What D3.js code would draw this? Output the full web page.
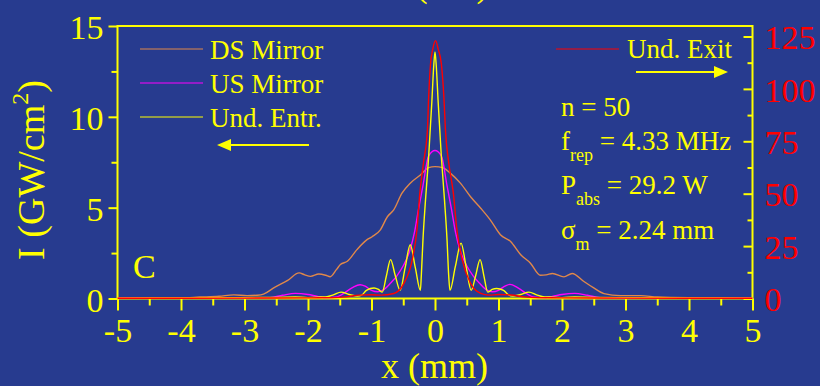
<!DOCTYPE html>
<html>
<head>
<meta charset="utf-8">
<script src="https://cdn.jsdelivr.net/npm/d3@7"></script>
<style>
  html, body { margin: 0; padding: 0; background: #273b8f; }
  svg { display: block; }
  text { font-family: "Liberation Serif", "Times New Roman", serif; }
</style>
</head>
<body>
<svg id="chart" width="820" height="386"></svg>
<script>
// Transverse position (mm) and intensity samples for each profile.
// DS Mirror, US Mirror and Und. Entr. use the left axis (GW/cm^2);
// Und. Exit uses the right axis.
const dsX = [-5, -4.5, -4, -3.7, -3.4, -3.17, -2.96, -2.8, -2.7, -2.54, -2.32, -2.14, -2.05, -1.96, -1.83, -1.72, -1.65, -1.55, -1.49, -1.38, -1.23, -1.07, -0.99, -0.86, -0.75, -0.65, -0.52, -0.39, -0.23, -0.1, 0,
             0.12, 0.24, 0.40, 0.56, 0.72, 0.87, 1.03, 1.19, 1.35, 1.50, 1.66, 1.75, 1.85, 2.03, 2.16, 2.34, 2.5, 2.66, 2.92, 3.24, 3.5, 4, 4.5, 5];
const dsI = [0.02, 0.03, 0.04, 0.08, 0.12, 0.2, 0.16, 0.18, 0.24, 0.58, 1.0, 1.41, 1.3, 1.22, 1.35, 1.28, 1.2, 1.6, 1.87, 2.05, 2.69, 3.24, 3.4, 3.78, 4.5, 4.88, 5.8, 6.35, 6.8, 7.2, 7.26,
             7.2, 6.9, 6.35, 5.6, 4.97, 4.33, 3.51, 3.14, 2.41, 1.96, 1.28, 1.3, 1.38, 1.19, 1.38, 0.95, 0.58, 0.27, 0.16, 0.16, 0.08, 0.04, 0.03, 0.02];

const usX = [-5, -3, -2.6, -2.4, -2.2, -2.0, -1.85, -1.7, -1.55, -1.45, -1.3, -1.18, -1.1, -1.0, -0.9, -0.8, -0.7, -0.6, -0.5, -0.4, -0.32, -0.26, -0.19, -0.1, 0,
             0.1, 0.19, 0.26, 0.32, 0.4, 0.5, 0.6, 0.7, 0.8, 0.9, 1.0, 1.1, 1.18, 1.3, 1.45, 1.55, 1.7, 1.85, 2.0, 2.2, 2.4, 2.6, 3, 5];
const usI = [0.01, 0.03, 0.05, 0.18, 0.28, 0.22, 0.12, 0.05, 0.08, 0.25, 0.6, 0.76, 0.68, 0.45, 0.37, 0.5, 0.85, 1.25, 1.8, 2.6, 3.7, 4.9, 6.2, 7.85, 8.15,
             7.85, 6.2, 4.9, 3.7, 2.6, 1.8, 1.25, 0.85, 0.5, 0.37, 0.45, 0.68, 0.78, 0.6, 0.25, 0.08, 0.05, 0.12, 0.22, 0.28, 0.18, 0.05, 0.03, 0.01];

const entrX = [-5, -4, -3, -2.5, -2.2, -2.0, -1.8, -1.7, -1.6, -1.48, -1.35, -1.22, -1.15, -1.08, -0.96, -0.89, -0.83, -0.765, -0.70, -0.625, -0.55, -0.47, -0.39, -0.31, -0.23, -0.215, -0.19, -0.15, -0.1, -0.05, -0.02, 0,
               0.02, 0.05, 0.1, 0.15, 0.19, 0.215, 0.235, 0.32, 0.41, 0.49, 0.57, 0.64, 0.71, 0.77, 0.83, 0.9, 0.97, 1.08, 1.15, 1.22, 1.35, 1.48, 1.6, 1.7, 1.8, 2.0, 2.2, 2.5, 3, 4, 5];
const entrI = [0.02, 0.03, 0.05, 0.06, 0.08, 0.05, 0.08, 0.1, 0.2, 0.35, 0.22, 0.13, 0.2, 0.45, 0.58, 0.5, 0.35, 1.25, 2.14, 1.25, 0.45, 1.7, 2.96, 1.7, 0.45, 1.3, 3.2, 5.4, 7.8, 10.8, 12.8, 13.57,
               12.8, 10.8, 7.8, 5.4, 3.2, 1.3, 0.45, 1.75, 3.05, 1.75, 0.45, 1.25, 2.14, 1.25, 0.35, 0.5, 0.55, 0.45, 0.22, 0.13, 0.22, 0.35, 0.2, 0.1, 0.08, 0.05, 0.08, 0.06, 0.05, 0.03, 0.02];

const exitX = [-5, -3, -2, -1.6, -1.4, -1.2, -1.0, -0.85, -0.65, -0.49, -0.36, -0.28, -0.24, -0.18, -0.12, -0.1, -0.07, -0.035, 0.01,
               0.05, 0.1, 0.14, 0.165, 0.215, 0.29, 0.34, 0.43, 0.56, 0.72, 0.85, 1.0, 1.2, 1.4, 1.6, 2, 3, 5];
const exitI = [0.1, 0.2, 0.3, 0.4, 0.8, 1.6, 1.8, 1.6, 2.4, 7.2, 18.3, 34, 50, 65, 80, 96, 112, 119, 123,
               119, 112, 96, 80, 65, 50, 34, 18.3, 7.2, 2.4, 1.6, 1.9, 1.7, 0.8, 0.4, 0.3, 0.2, 0.1];

const xTicks = [-5, -4, -3, -2, -1, 0, 1, 2, 3, 4, 5];
const leftTicks = [0, 5, 10, 15];
const rightTicks = [0, 25, 50, 75, 100, 125];

const series = [
  { name: "DS Mirror",  xs: dsX,   vs: dsI,   color: "#e0884a", axis: "left"  },
  { name: "US Mirror",  xs: usX,   vs: usI,   color: "#ff00ff", axis: "left"  },
  { name: "Und. Entr.", xs: entrX, vs: entrI, color: "#ffff00", axis: "left"  },
  { name: "Und. Exit",  xs: exitX, vs: exitI, color: "#ff0000", axis: "right" }
];

const YELLOW = "#ffff00", RED = "#ff0000";
const plot = { left: 117.5, right: 752.5, top: 26, bottom: 298.5 };

const svg = d3.select("#chart");

const x = d3.scaleLinear().domain([-5, 5]).range([plot.left, plot.right]);
const yL = d3.scaleLinear().domain([0, 15]).range([plot.bottom, plot.top]);
const yR = d3.scaleLinear().domain([0, 130]).range([plot.bottom, plot.top]);

function halfSteps(ticks) {
  const out = [];
  for (let i = 0; i < ticks.length - 1; i++) out.push((ticks[i] + ticks[i + 1]) / 2);
  return out;
}

function styleAxis(g, color, size) {
  g.selectAll(".domain").remove();
  g.selectAll(".tick line").attr("stroke", YELLOW).attr("stroke-width", 2);
  g.selectAll(".tick text").attr("fill", color).attr("font-size", size)
    .attr("font-family", '"Liberation Serif", "Times New Roman", serif');
}

// Frame
svg.append("rect")
  .attr("x", plot.left).attr("y", plot.top)
  .attr("width", plot.right - plot.left).attr("height", plot.bottom - plot.top)
  .attr("fill", "none").attr("stroke", YELLOW).attr("stroke-width", 2);

// Bottom axis
const gx = svg.append("g").attr("transform", `translate(0,${plot.bottom})`)
  .call(d3.axisBottom(x).tickValues(xTicks).tickSize(12).tickSizeOuter(0).tickPadding(7).tickFormat(d => String(d)));
styleAxis(gx, YELLOW, 34);
svg.append("g").attr("transform", `translate(0,${plot.bottom})`)
  .call(d3.axisBottom(x).tickValues(halfSteps(xTicks)).tickSize(7).tickSizeOuter(0).tickFormat(""))
  .call(g => styleAxis(g, YELLOW, 34));

// Left axis
const gl = svg.append("g").attr("transform", `translate(${plot.left},0)`)
  .call(d3.axisLeft(yL).tickValues(leftTicks).tickSize(9).tickSizeOuter(0).tickPadding(5).tickFormat(d => String(d)));
styleAxis(gl, YELLOW, 34);
gl.selectAll(".tick text").attr("dy", "0.37em");
svg.append("g").attr("transform", `translate(${plot.left},0)`)
  .call(d3.axisLeft(yL).tickValues(halfSteps(leftTicks)).tickSize(6).tickSizeOuter(0).tickFormat(""))
  .call(g => styleAxis(g, YELLOW, 34));

// Right axis (ticks point into the plot)
const gr = svg.append("g").attr("transform", `translate(${plot.right},0)`)
  .call(d3.axisRight(yR).tickValues(rightTicks).tickSize(-9).tickSizeOuter(0).tickPadding(12).tickFormat(d => String(d)));
styleAxis(gr, RED, 34);
gr.selectAll(".tick text").attr("dy", "0.36em");
svg.append("g").attr("transform", `translate(${plot.right},0)`)
  .call(d3.axisRight(yR).tickValues(halfSteps(rightTicks)).tickSize(-5).tickSizeOuter(0).tickFormat(""))
  .call(g => styleAxis(g, RED, 34));

// Profiles
const clip = svg.append("clipPath").attr("id", "plotClip")
  .append("rect").attr("x", plot.left).attr("y", plot.top - 2)
  .attr("width", plot.right - plot.left).attr("height", plot.bottom - plot.top + 4);

const curves = svg.append("g").attr("clip-path", "url(#plotClip)");
series.forEach(s => {
  const yScale = s.axis === "left" ? yL : yR;
  const pts = s.xs.map((xv, i) => [xv, s.vs[i]]);
  const line = d3.line().x(d => x(d[0])).y(d => yScale(d[1])).curve(d3.curveMonotoneX);
  curves.append("path").datum(pts)
    .attr("d", line)
    .attr("fill", "none")
    .attr("stroke", s.color)
    .attr("stroke-width", 1.4)
    .attr("stroke-linejoin", "round");
});

// Legend (left group)
const legendLeft = [series[0], series[1], series[2]];
legendLeft.forEach((s, i) => {
  const yy = 49 + i * 34;
  svg.append("line").attr("x1", 140).attr("x2", 203).attr("y1", yy).attr("y2", yy)
    .attr("stroke", s.color).attr("stroke-width", 1.2);
  svg.append("text").attr("x", 210).attr("y", yy + 10).attr("fill", YELLOW)
    .attr("font-size", 27).text(s.name);
});
// Arrow pointing to the left axis
svg.append("line").attr("x1", 228).attr("x2", 309).attr("y1", 145).attr("y2", 145)
  .attr("stroke", YELLOW).attr("stroke-width", 2);
svg.append("path").attr("d", "M217,145 L231,139 L231,151 Z").attr("fill", YELLOW);

// Legend (right group)
svg.append("line").attr("x1", 556).attr("x2", 619).attr("y1", 49).attr("y2", 49)
  .attr("stroke", series[3].color).attr("stroke-width", 1.2);
svg.append("text").attr("x", 627).attr("y", 58).attr("fill", YELLOW)
  .attr("font-size", 27).text(series[3].name);
// Arrow pointing to the right axis
svg.append("line").attr("x1", 636).attr("x2", 716).attr("y1", 72).attr("y2", 72)
  .attr("stroke", YELLOW).attr("stroke-width", 2);
svg.append("path").attr("d", "M728,72 L714,66 L714,78 Z").attr("fill", YELLOW);

// Run parameters
const params = [
  { main: "n", sub: "", rest: " = 50", y: 116 },
  { main: "f", sub: "rep", rest: " = 4.33 MHz", y: 150 },
  { main: "P", sub: "abs", rest: " = 29.2 W", y: 194 },
  { main: "\u03c3", sub: "m", rest: " = 2.24 mm", y: 239 }
];
params.forEach(p => {
  const t = svg.append("text").attr("x", 561).attr("y", p.y).attr("fill", YELLOW).attr("font-size", 27);
  t.append("tspan").text(p.main);
  if (p.sub) {
    t.append("tspan").attr("font-size", 18).attr("dy", 11).text(p.sub);
    t.append("tspan").attr("dy", -11).text(p.rest);
  } else {
    t.append("tspan").text(p.rest);
  }
});

// Panel letter
svg.append("text").attr("x", 133).attr("y", 278).attr("fill", YELLOW).attr("font-size", 34).text("C");

// Axis titles
svg.append("text").attr("x", 434.5).attr("y", 378).attr("text-anchor", "middle")
  .attr("fill", YELLOW).attr("font-size", 36).text("x (mm)");

const yt = svg.append("text").attr("transform", "translate(44,170) rotate(-90)")
  .attr("text-anchor", "middle").attr("fill", YELLOW).attr("font-size", 38);
yt.append("tspan").text("I (GW/cm");
yt.append("tspan").attr("font-size", 24).attr("dy", -16).text("2");
yt.append("tspan").attr("dy", 16).text(")");

// Top title (mostly above the visible area)
svg.append("text").attr("x", 452).attr("y", -3).attr("text-anchor", "middle")
  .attr("fill", YELLOW).attr("font-size", 34).text("(a.u.)");
</script>
</body>
</html>
